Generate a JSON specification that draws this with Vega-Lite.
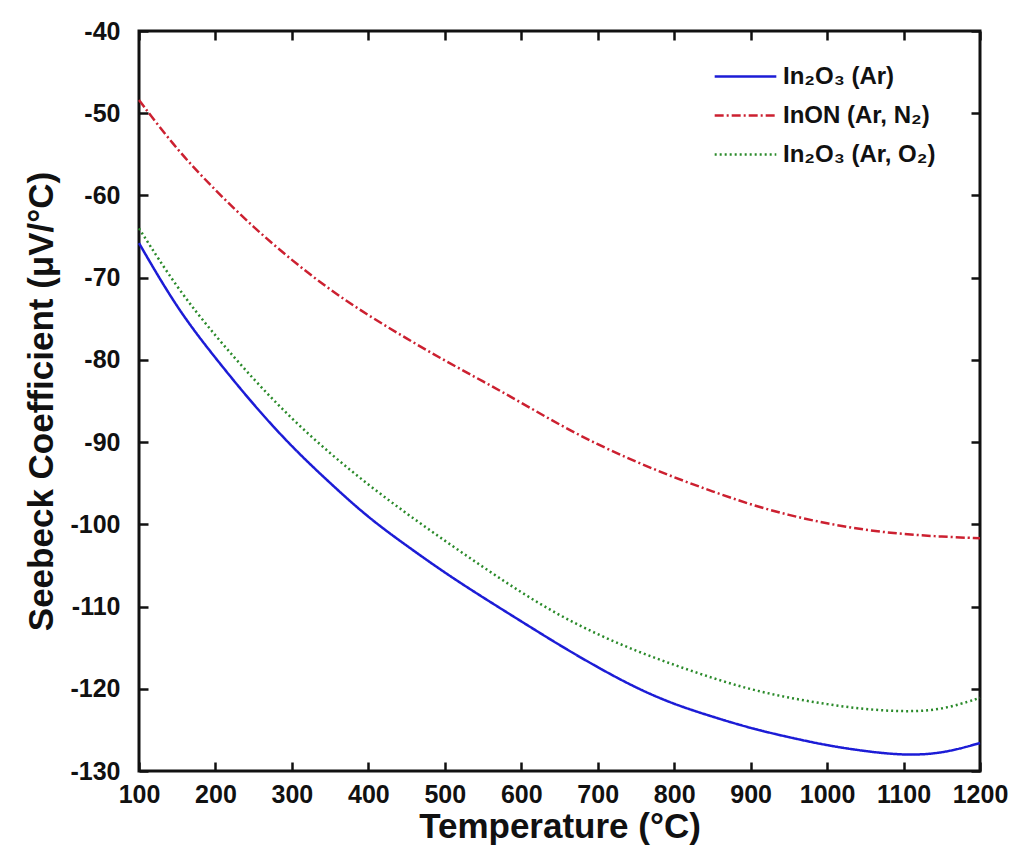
{
  "$schema": "https://vega.github.io/schema/vega-lite/v6.json",
  "width": 841,
  "height": 740,
  "autosize": "none",
  "padding": {"left": 139, "top": 31, "right": 44, "bottom": 91},
  "data": {
    "values": [
      {"T": 100, "S": -65.8, "sample": "In₂O₃ (Ar)"},
      {"T": 150, "S": -73.8, "sample": "In₂O₃ (Ar)"},
      {"T": 200, "S": -79.8, "sample": "In₂O₃ (Ar)"},
      {"T": 250, "S": -85.5, "sample": "In₂O₃ (Ar)"},
      {"T": 300, "S": -90.6, "sample": "In₂O₃ (Ar)"},
      {"T": 350, "S": -95.0, "sample": "In₂O₃ (Ar)"},
      {"T": 400, "S": -99.2, "sample": "In₂O₃ (Ar)"},
      {"T": 450, "S": -102.6, "sample": "In₂O₃ (Ar)"},
      {"T": 500, "S": -105.9, "sample": "In₂O₃ (Ar)"},
      {"T": 550, "S": -108.9, "sample": "In₂O₃ (Ar)"},
      {"T": 600, "S": -111.8, "sample": "In₂O₃ (Ar)"},
      {"T": 650, "S": -114.7, "sample": "In₂O₃ (Ar)"},
      {"T": 700, "S": -117.4, "sample": "In₂O₃ (Ar)"},
      {"T": 750, "S": -119.9, "sample": "In₂O₃ (Ar)"},
      {"T": 800, "S": -121.9, "sample": "In₂O₃ (Ar)"},
      {"T": 850, "S": -123.4, "sample": "In₂O₃ (Ar)"},
      {"T": 900, "S": -124.8, "sample": "In₂O₃ (Ar)"},
      {"T": 950, "S": -125.9, "sample": "In₂O₃ (Ar)"},
      {"T": 1000, "S": -126.9, "sample": "In₂O₃ (Ar)"},
      {"T": 1050, "S": -127.6, "sample": "In₂O₃ (Ar)"},
      {"T": 1100, "S": -128.1, "sample": "In₂O₃ (Ar)"},
      {"T": 1150, "S": -127.9, "sample": "In₂O₃ (Ar)"},
      {"T": 1200, "S": -126.6, "sample": "In₂O₃ (Ar)"},
      {"T": 100, "S": -48.4, "sample": "InON (Ar, N₂)"},
      {"T": 150, "S": -54.5, "sample": "InON (Ar, N₂)"},
      {"T": 200, "S": -59.4, "sample": "InON (Ar, N₂)"},
      {"T": 250, "S": -63.9, "sample": "InON (Ar, N₂)"},
      {"T": 300, "S": -67.9, "sample": "InON (Ar, N₂)"},
      {"T": 350, "S": -71.5, "sample": "InON (Ar, N₂)"},
      {"T": 400, "S": -74.6, "sample": "InON (Ar, N₂)"},
      {"T": 450, "S": -77.4, "sample": "InON (Ar, N₂)"},
      {"T": 500, "S": -80.1, "sample": "InON (Ar, N₂)"},
      {"T": 550, "S": -82.6, "sample": "InON (Ar, N₂)"},
      {"T": 600, "S": -85.2, "sample": "InON (Ar, N₂)"},
      {"T": 650, "S": -87.9, "sample": "InON (Ar, N₂)"},
      {"T": 700, "S": -90.3, "sample": "InON (Ar, N₂)"},
      {"T": 750, "S": -92.4, "sample": "InON (Ar, N₂)"},
      {"T": 800, "S": -94.3, "sample": "InON (Ar, N₂)"},
      {"T": 850, "S": -96.0, "sample": "InON (Ar, N₂)"},
      {"T": 900, "S": -97.6, "sample": "InON (Ar, N₂)"},
      {"T": 950, "S": -98.9, "sample": "InON (Ar, N₂)"},
      {"T": 1000, "S": -99.9, "sample": "InON (Ar, N₂)"},
      {"T": 1050, "S": -100.7, "sample": "InON (Ar, N₂)"},
      {"T": 1100, "S": -101.2, "sample": "InON (Ar, N₂)"},
      {"T": 1150, "S": -101.5, "sample": "InON (Ar, N₂)"},
      {"T": 1200, "S": -101.7, "sample": "InON (Ar, N₂)"},
      {"T": 100, "S": -64.0, "sample": "In₂O₃ (Ar, O₂)"},
      {"T": 150, "S": -71.3, "sample": "In₂O₃ (Ar, O₂)"},
      {"T": 200, "S": -77.1, "sample": "In₂O₃ (Ar, O₂)"},
      {"T": 250, "S": -82.4, "sample": "In₂O₃ (Ar, O₂)"},
      {"T": 300, "S": -87.2, "sample": "In₂O₃ (Ar, O₂)"},
      {"T": 350, "S": -91.4, "sample": "In₂O₃ (Ar, O₂)"},
      {"T": 400, "S": -95.2, "sample": "In₂O₃ (Ar, O₂)"},
      {"T": 450, "S": -98.7, "sample": "In₂O₃ (Ar, O₂)"},
      {"T": 500, "S": -102.0, "sample": "In₂O₃ (Ar, O₂)"},
      {"T": 550, "S": -105.2, "sample": "In₂O₃ (Ar, O₂)"},
      {"T": 600, "S": -108.3, "sample": "In₂O₃ (Ar, O₂)"},
      {"T": 650, "S": -111.1, "sample": "In₂O₃ (Ar, O₂)"},
      {"T": 700, "S": -113.4, "sample": "In₂O₃ (Ar, O₂)"},
      {"T": 750, "S": -115.4, "sample": "In₂O₃ (Ar, O₂)"},
      {"T": 800, "S": -117.1, "sample": "In₂O₃ (Ar, O₂)"},
      {"T": 850, "S": -118.7, "sample": "In₂O₃ (Ar, O₂)"},
      {"T": 900, "S": -120.1, "sample": "In₂O₃ (Ar, O₂)"},
      {"T": 950, "S": -121.1, "sample": "In₂O₃ (Ar, O₂)"},
      {"T": 1000, "S": -121.9, "sample": "In₂O₃ (Ar, O₂)"},
      {"T": 1050, "S": -122.5, "sample": "In₂O₃ (Ar, O₂)"},
      {"T": 1100, "S": -122.8, "sample": "In₂O₃ (Ar, O₂)"},
      {"T": 1150, "S": -122.6, "sample": "In₂O₃ (Ar, O₂)"},
      {"T": 1200, "S": -121.1, "sample": "In₂O₃ (Ar, O₂)"}
    ]
  },
  "layer": [
    {
      "mark": {"type": "line", "strokeWidth": 2.5, "interpolate": "basis"},
      "encoding": {
        "x": {
          "field": "T", "type": "quantitative",
          "scale": {"domain": [100, 1200], "nice": false, "zero": false},
          "axis": {"orient": "bottom", "values": [100,200,300,400,500,600,700,800,900,1000,1100,1200], "title": "Temperature (°C)", "titlePadding": 2, "titleFontSize": 35, "labelPadding": 11}
        },
        "y": {
          "field": "S", "type": "quantitative",
          "scale": {"domain": [-130, -40], "nice": false, "zero": false},
          "axis": {"orient": "left", "values": [-130,-120,-110,-100,-90,-80,-70,-60,-50,-40], "title": "Seebeck Coefficient (μV/°C)", "titlePadding": 10, "titleFontSize": 35, "labelPadding": 19}
        },
        "color": {
          "field": "sample", "type": "nominal",
          "scale": {
            "domain": ["In₂O₃ (Ar)", "InON (Ar, N₂)", "In₂O₃ (Ar, O₂)"],
            "range": ["#1c1cd6", "#cc2030", "#2a8a2a"]
          },
          "legend": {
            "title": null, "orient": "none",
            "padding": 0, "legendX": 574, "legendY": 26, "direction": "vertical",
            "symbolType": "stroke", "symbolSize": 3800, "symbolStrokeWidth": 2.5,
            "clipHeight": 39, "rowPadding": 0,
            "labelFontSize": 24, "labelFont": "Liberation Sans", "labelFontWeight": "bold",
            "labelColor": "#111", "labelOffset": 5
          }
        },
        "strokeDash": {
          "field": "sample", "type": "nominal",
          "scale": {
            "domain": ["In₂O₃ (Ar)", "InON (Ar, N₂)", "In₂O₃ (Ar, O₂)"],
            "range": [[1, 0], [9, 3, 2, 3], [2, 3]]
          },
          "legend": null
        }
      }
    },
    {
      "mark": {"type": "rule", "opacity": 0},
      "encoding": {
        "x": {
          "field": "T", "type": "quantitative",
          "axis": {"orient": "top", "values": [100,200,300,400,500,600,700,800,900,1000,1100,1200], "labels": false, "title": null}
        },
        "y": {
          "field": "S", "type": "quantitative",
          "axis": {"orient": "right", "values": [-130,-120,-110,-100,-90,-80,-70,-60,-50,-40], "labels": false, "title": null}
        }
      }
    }
  ],
  "resolve": {"axis": {"x": "independent", "y": "independent"}},
  "config": {
    "font": "Liberation Sans",
    "view": {"stroke": "#111", "strokeWidth": 3},
    "axis": {
      "grid": false, "domain": false, "offset": -9, "zindex": 1,
      "tickColor": "#111", "tickWidth": 2.5, "tickSize": 9,
      "labelFont": "Liberation Sans", "labelFontSize": 25, "labelFontWeight": "bold", "labelColor": "#111",
      "labelExpr": "'' + datum.value", "labelOverlap": false, "labelBound": false, "labelFlush": false,
      "titleFont": "Liberation Sans", "titleFontWeight": "bold", "titleColor": "#111"
    }
  }
}
